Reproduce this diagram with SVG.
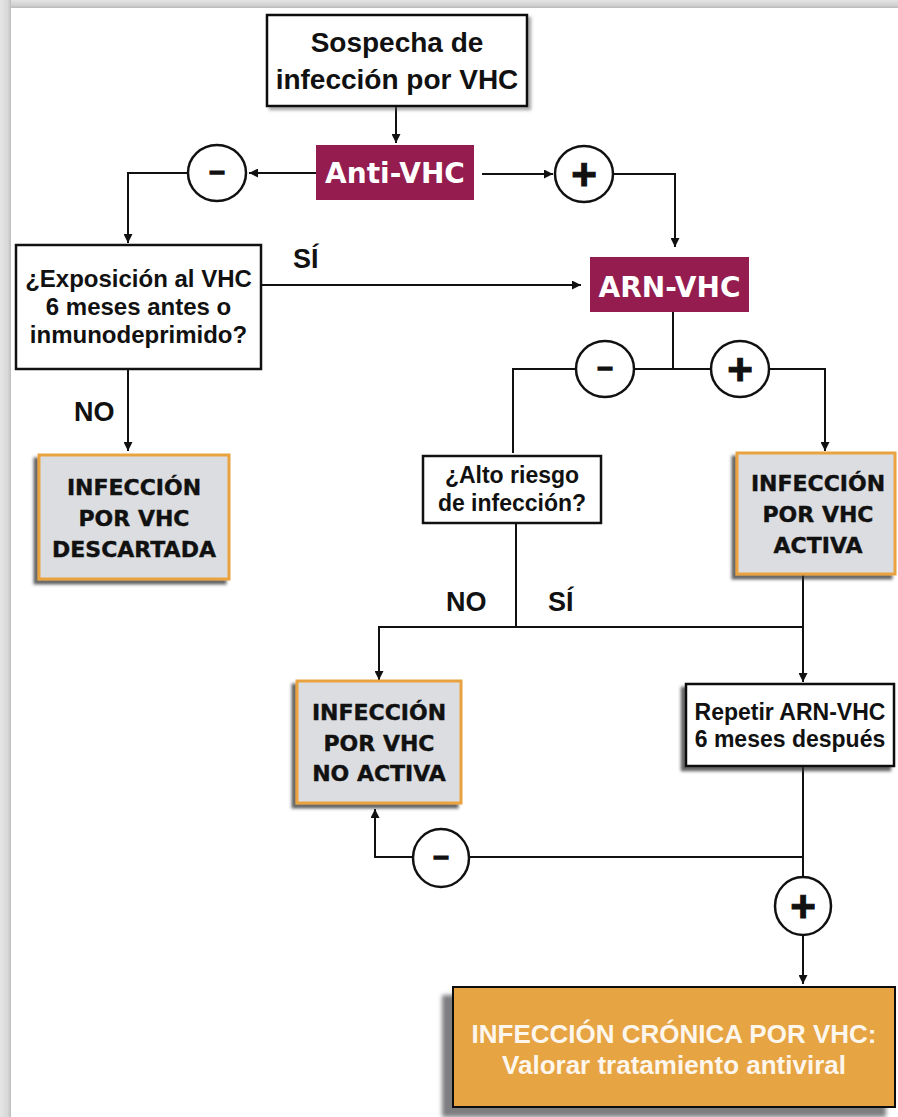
<svg xmlns="http://www.w3.org/2000/svg" width="898" height="1117" viewBox="0 0 898 1117">
  <defs>
    <linearGradient id="gTop" x1="0" y1="0" x2="0" y2="1">
      <stop offset="0" stop-color="#e4e4e4"/>
      <stop offset="0.7" stop-color="#cfcfcf"/>
      <stop offset="1" stop-color="#b9b9b9"/>
    </linearGradient>
    <linearGradient id="gLeft" x1="0" y1="0" x2="1" y2="0">
      <stop offset="0" stop-color="#e6e6e6"/>
      <stop offset="0.7" stop-color="#d8d8d8"/>
      <stop offset="1" stop-color="#bdbdbd"/>
    </linearGradient>
    <filter id="shL" x="-20%" y="-20%" width="140%" height="140%">
      <feDropShadow dx="-4" dy="4" stdDeviation="1.5" flood-color="#333" flood-opacity="0.75"/>
    </filter>
    <filter id="shR" x="-20%" y="-20%" width="140%" height="140%">
      <feDropShadow dx="3" dy="3" stdDeviation="1.5" flood-color="#555" flood-opacity="0.5"/>
    </filter>
    <filter id="shBig" x="-20%" y="-20%" width="140%" height="150%">
      <feDropShadow dx="-10" dy="9" stdDeviation="2" flood-color="#6f7073" flood-opacity="0.9"/>
    </filter>
    <marker id="ah" viewBox="0 0 10 10" refX="10" refY="5" markerWidth="9" markerHeight="9" markerUnits="userSpaceOnUse" orient="auto">
      <path d="M0,0 L10,5 L0,10 Z" fill="#111"/>
    </marker>
    <style>
      .wbox { fill: #ffffff; stroke: #111; stroke-width: 2.5; }
      .gbox { fill: #dcdde0; stroke: #e8a33f; stroke-width: 3; }
      .mbox { fill: #941c4f; }
      .obox { fill: #e6a442; stroke: #111; stroke-width: 2; }
      .lbl { font-family: "Liberation Sans", Arial, sans-serif; font-weight: bold; fill: #111; text-anchor: middle; }
      .cap { font-family: "DejaVu Sans", "Liberation Sans", sans-serif; font-weight: bold; fill: #111; stroke: #111; stroke-width: 0.4; text-anchor: middle; font-size: 22px; }
      .wt { font-family: "DejaVu Sans", "Liberation Sans", sans-serif; font-weight: bold; fill: #ffffff; text-anchor: middle; font-size: 28px; }
      .yn { font-family: "Liberation Sans", Arial, sans-serif; font-weight: bold; fill: #111; font-size: 27px; }
      .ln { fill: none; stroke: #111; stroke-width: 2; }
      .circ { fill: #ffffff; stroke: #111; stroke-width: 2.5; }
      .sign { font-family: "Liberation Sans", Arial, sans-serif; font-weight: bold; fill: #111; stroke: #111; text-anchor: middle; }
      .plus { font-size: 44px; stroke-width: 1; }
      .minus { font-size: 28px; stroke-width: 1.3; }
      .otxt { font-family: "Liberation Sans", Arial, sans-serif; font-weight: bold; fill: #fdf6ec; text-anchor: middle; font-size: 26px; }
    </style>
  </defs>

  <!-- page frame -->
  <rect x="0" y="0" width="898" height="1117" fill="#ffffff"/>
  <rect x="0" y="0" width="898" height="8" fill="url(#gTop)"/>
  <rect x="0" y="0" width="11" height="1117" fill="url(#gLeft)"/>

  <!-- connectors -->
  <g id="connectors">
    <line class="ln" x1="396" y1="107" x2="396" y2="143" marker-end="url(#ah)"/>
    <line class="ln" x1="316" y1="173" x2="249" y2="173" marker-end="url(#ah)"/>
    <polyline class="ln" points="189,173 128,173 128,243" marker-end="url(#ah)"/>
    <line class="ln" x1="482" y1="174" x2="553" y2="174" marker-end="url(#ah)"/>
    <polyline class="ln" points="613,174 675,174 675,247" marker-end="url(#ah)"/>
    <line class="ln" x1="262" y1="285" x2="581" y2="285" marker-end="url(#ah)"/>
    <line class="ln" x1="128" y1="370" x2="128" y2="451" marker-end="url(#ah)"/>
    <line class="ln" x1="673" y1="312" x2="673" y2="369"/>
    <polyline class="ln" points="513,453 513,369 825,369 825,451" marker-end="url(#ah)"/>
    <line class="ln" x1="516" y1="523" x2="516" y2="627"/>
    <polyline class="ln" points="803,627 379,627 379,680" marker-end="url(#ah)"/>
    <line class="ln" x1="803" y1="575" x2="803" y2="682" marker-end="url(#ah)"/>
    <line class="ln" x1="803" y1="766" x2="803" y2="984" marker-end="url(#ah)"/>
    <polyline class="ln" points="803,857 375,857 375,809" marker-end="url(#ah)"/>
    <text class="yn" x="293" y="268">SÍ</text>
    <text class="yn" x="74" y="421">NO</text>
    <text class="yn" x="446" y="611">NO</text>
    <text class="yn" x="548" y="611">SÍ</text>
  </g>

  <!-- sign circles -->
  <g id="c-neg-antivhc">
    <ellipse class="circ" cx="217" cy="173" rx="29" ry="28"/>
    <text class="sign minus" x="217" y="180">–</text>
  </g>
  <g id="c-pos-antivhc">
    <ellipse class="circ" cx="584" cy="174" rx="29" ry="28"/>
    <text class="sign plus" x="584" y="190">+</text>
  </g>
  <g id="c-neg-arn">
    <ellipse class="circ" cx="605" cy="369" rx="29" ry="28"/>
    <text class="sign minus" x="605" y="376">–</text>
  </g>
  <g id="c-pos-arn">
    <ellipse class="circ" cx="740" cy="369" rx="29" ry="28"/>
    <text class="sign plus" x="740" y="385">+</text>
  </g>
  <g id="c-neg-repeat">
    <ellipse class="circ" cx="441" cy="858" rx="28" ry="29"/>
    <text class="sign minus" x="441" y="865">–</text>
  </g>
  <g id="c-pos-repeat">
    <ellipse class="circ" cx="803" cy="906" rx="28" ry="29"/>
    <text class="sign plus" x="803" y="922">+</text>
  </g>

  <!-- nodes -->
  <g id="n-sospecha">
    <rect class="wbox" x="267" y="15" width="260" height="91" filter="url(#shR)"/>
    <text class="lbl" x="397" y="52" font-size="28">Sospecha de</text>
    <text class="lbl" x="397" y="89" font-size="28">infección por VHC</text>
  </g>
  <g id="n-antivhc">
    <rect class="mbox" x="316" y="145" width="158" height="55"/>
    <text class="wt" x="395" y="183">Anti-VHC</text>
  </g>
  <g id="n-exposicion">
    <rect class="wbox" x="16" y="245" width="245" height="124"/>
    <text class="lbl" x="138.5" y="287" font-size="24">¿Exposición al VHC</text>
    <text class="lbl" x="138.5" y="315" font-size="24">6 meses antes o</text>
    <text class="lbl" x="138.5" y="343" font-size="24">inmunodeprimido?</text>
  </g>
  <g id="n-arnvhc">
    <rect class="mbox" x="590" y="257" width="159" height="55"/>
    <text class="wt" x="669.5" y="297">ARN-VHC</text>
  </g>
  <g id="n-descartada">
    <rect class="gbox" x="39" y="455" width="190" height="124" filter="url(#shL)"/>
    <text class="cap" x="134" y="495">INFECCIÓN</text>
    <text class="cap" x="134" y="526">POR VHC</text>
    <text class="cap" x="134" y="557">DESCARTADA</text>
  </g>
  <g id="n-altoriesgo">
    <rect class="wbox" x="423" y="456" width="178" height="67"/>
    <text class="lbl" x="512" y="483" font-size="23">¿Alto riesgo</text>
    <text class="lbl" x="512" y="511" font-size="23">de infección?</text>
  </g>
  <g id="n-activa">
    <rect class="gbox" x="737" y="453" width="158" height="121" filter="url(#shL)"/>
    <text class="cap" x="818" y="491">INFECCIÓN</text>
    <text class="cap" x="818" y="522">POR VHC</text>
    <text class="cap" x="818" y="553">ACTIVA</text>
  </g>
  <g id="n-noactiva">
    <rect class="gbox" x="297" y="681" width="164" height="122" filter="url(#shL)"/>
    <text class="cap" x="379" y="720">INFECCIÓN</text>
    <text class="cap" x="379" y="751">POR VHC</text>
    <text class="cap" x="379" y="781">NO ACTIVA</text>
  </g>
  <g id="n-repetir">
    <rect class="wbox" x="686" y="684" width="208" height="82" filter="url(#shL)"/>
    <text class="lbl" x="790" y="720" font-size="23">Repetir ARN-VHC</text>
    <text class="lbl" x="790" y="747" font-size="23">6 meses después</text>
  </g>
  <g id="n-cronica">
    <rect class="obox" x="453" y="987" width="442" height="120" filter="url(#shBig)"/>
    <text class="otxt" x="674" y="1043">INFECCIÓN CRÓNICA POR VHC:</text>
    <text class="otxt" x="674" y="1074">Valorar tratamiento antiviral</text>
  </g>
</svg>
